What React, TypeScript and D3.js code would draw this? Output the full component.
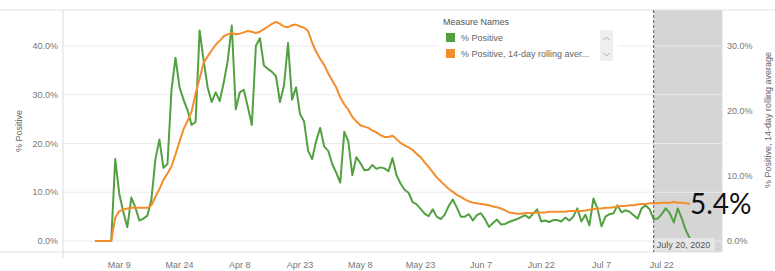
import * as d3 from "d3";

// daily values, first point is START_DATE
const START_DATE = "2020-03-03";

// % Positive (left axis)
const pctPositive = [
  0, 0, 0, 0, 0,
  16.8, 9.7, 6.0, 2.8,
  8.9, 6.9, 4.2, 4.6, 5.2, 8.5, 16.8, 20.8, 15.0, 15.8,
  31.0, 37.6, 31.5, 29.0, 26.8, 23.8, 24.4, 43.2, 37.0, 31.5,
  28.5, 30.5, 28.7, 32.5, 37.0, 44.2, 27.0, 30.5, 31.0, 27.5,
  23.8, 40.0, 41.6, 36.0, 35.3, 34.7, 33.8, 28.5, 31.9, 40.6,
  29.0, 31.5, 26.0, 24.5, 18.5, 16.8, 20.5, 23.2, 19.4, 18.5,
  15.8, 14.0, 12.0, 22.4, 20.5, 13.5, 17.2, 16.0, 14.5, 14.6,
  15.6, 14.8, 15.1, 14.9, 14.3, 17.0, 13.5, 11.8, 10.5, 9.9,
  8.0, 7.5, 6.6, 5.6, 5.1, 6.5, 5.0, 4.5, 5.4, 7.2,
  8.5, 6.9, 5.0, 5.0, 5.5, 4.2, 5.3, 5.7, 4.5, 2.9,
  3.7, 4.4, 3.4, 3.5, 3.9, 4.2, 4.5, 4.9, 5.3, 4.7,
  5.6, 6.5, 4.0, 4.2, 3.9, 4.3, 4.3, 4.0, 4.8, 4.2,
  5.0, 6.7, 4.0, 5.4, 3.2, 8.7, 6.7, 3.0, 5.0, 5.5,
  5.7, 7.3, 5.9, 6.3, 6.0, 5.3, 4.6, 6.7, 7.3, 6.5,
  4.5, 4.6, 5.5, 6.7, 5.7, 3.8, 6.7, 4.6, 2.2, 0.5,
];

// % Positive, 14-day rolling average (right axis)
const pctRolling = [
  0, 0, 0, 0, 0,
  3.6, 4.6, 4.8, 5.0, 5.1, 5.1, 5.1, 5.1, 5.1,
  5.5, 6.8, 8.0, 9.4, 10.4,
  11.5, 13.3, 15.3, 17.2, 18.5, 19.9, 22.7, 25.0, 27.4, 28.4,
  29.3, 30.2, 30.8, 31.5, 31.8, 32.0, 31.8, 31.9, 32.1, 32.3,
  32.2, 32.0, 32.2, 32.6, 33.0, 33.4, 33.7, 33.4, 33.0, 32.9,
  33.2, 33.3, 33.0, 32.8, 32.3, 30.5, 29.1, 28.0, 27.1, 25.8,
  24.7, 23.6, 22.1, 21.0, 20.2, 19.1, 18.4, 17.8, 17.6, 17.4,
  17.0, 16.7, 16.3, 16.0, 16.0, 16.2, 15.7, 15.1, 14.7, 14.4,
  14.0, 13.4, 12.9, 12.1, 11.4, 10.6, 9.8, 9.2, 8.6, 8.0,
  7.6, 7.1, 6.8, 6.4, 6.1, 5.9, 5.8, 5.7, 5.6, 5.5,
  5.3, 5.2, 5.0, 4.7, 4.4, 4.3, 4.2, 4.2, 4.3, 4.3,
  4.3, 4.4, 4.4, 4.4, 4.5, 4.5, 4.5, 4.5, 4.5, 4.6,
  4.6, 4.6, 4.6, 4.7, 4.8, 4.9, 5.0, 5.0, 5.1, 5.1,
  5.2, 5.3, 5.4, 5.4, 5.5, 5.5, 5.6, 5.7, 5.7, 5.8,
  5.8, 5.8, 5.9, 5.9, 5.9, 6.0, 5.9, 5.9, 5.8, 5.7,
];

const tickDates = [
  "2020-03-09", "2020-03-24", "2020-04-08", "2020-04-23", "2020-05-08",
  "2020-05-23", "2020-06-07", "2020-06-22", "2020-07-07", "2020-07-22",
];
const tickLabels = [
  "Mar 9", "Mar 24", "Apr 8", "Apr 23", "May 8",
  "May 23", "Jun 7", "Jun 22", "Jul 7", "Jul 22",
];
const leftTicks = [0, 10, 20, 30, 40];
const rightTicks = [0, 10, 20, 30];

const markerDate = "2020-07-20";
const markerLabel = "July 20, 2020";
const latestValue = "5.4%";

const legendTitle = "Measure Names";
const seriesNames = ["% Positive", "% Positive, 14-day rolling aver..."];
const seriesColors = ["#53a043", "#f28e2b"];

const W = 775;
const H = 271;
const PLOT = { left: 63, right: 722, top: 10, bottom: 252 };
const FONT = "'Liberation Sans', Arial, sans-serif";

const parse = (s: string) => new Date(s + "T00:00:00Z");
const addDays = (d: Date, n: number) => new Date(d.getTime() + n * 864e5);

export default function App() {
  const start = parse(START_DATE);

  const x = d3
    .scaleUtc()
    .domain([parse("2020-02-24"), parse("2020-08-06")])
    .range([PLOT.left, PLOT.right]);
  const yLeft = d3.scaleLinear().domain([0, 40]).range([241, 46]);
  const yRight = d3.scaleLinear().domain([0, 30]).range([241, 46]);

  const greenPath = d3
    .line<number>()
    .x((_, i) => x(addDays(start, i)))
    .y((v) => yLeft(v))(pctPositive);
  const orangePath = d3
    .line<number>()
    .x((_, i) => x(addDays(start, i)))
    .y((v) => yRight(v))(pctRolling);

  const mx = x(parse(markerDate));

  return (
    <svg
      width={W}
      height={H}
      style={{ position: "absolute", left: 0, top: 0, background: "#fff" }}
      fontFamily={FONT}
    >
      {/* highlighted period after the marker */}
      <rect x={mx} y={PLOT.top} width={PLOT.right - mx} height={PLOT.bottom - PLOT.top} fill="#d5d5d5" />

      {/* gridlines */}
      {leftTicks.map((t) => (
        <line key={t} x1={PLOT.left} x2={PLOT.right} y1={yLeft(t)} y2={yLeft(t)} stroke="#ebebeb" strokeWidth={1} />
      ))}

      {/* frame */}
      <line x1={0} x2={W} y1={PLOT.top} y2={PLOT.top} stroke="#e2e2e2" />
      <line x1={0} x2={PLOT.right} y1={PLOT.bottom} y2={PLOT.bottom} stroke="#e2e2e2" />
      <line x1={PLOT.left} x2={PLOT.left} y1={PLOT.top} y2={258} stroke="#dcdcdc" />
      <line x1={PLOT.right} x2={PLOT.right} y1={PLOT.top} y2={PLOT.bottom} stroke="#dcdcdc" />

      {/* lines */}
      <path d={greenPath ?? ""} fill="none" stroke={seriesColors[0]} strokeWidth={2} strokeLinejoin="round" />
      <path d={orangePath ?? ""} fill="none" stroke={seriesColors[1]} strokeWidth={2} strokeLinejoin="round" />

      {/* marker */}
      <line x1={mx} x2={mx} y1={PLOT.top} y2={PLOT.bottom} stroke="#555" strokeWidth={1} strokeDasharray="3,2" />
      <rect x={mx + 1} y={238} width={60} height={13} fill="#e6e6e6" />
      <text x={mx + 3} y={248} fontSize={9} fill="#555">{markerLabel}</text>

      {/* left axis */}
      {leftTicks.map((t) => (
        <text key={t} x={58} y={yLeft(t) + 3} textAnchor="end" fontSize={9} fill="#777">
          {t.toFixed(1)}%
        </text>
      ))}
      <text transform={`translate(21.5,131) rotate(-90)`} textAnchor="middle" fontSize={9} fill="#666">
        % Positive
      </text>

      {/* right axis */}
      {rightTicks.map((t) => (
        <text key={t} x={727} y={yRight(t) + 3} fontSize={9} fill="#777">
          {t.toFixed(1)}%
        </text>
      ))}
      <text transform={`translate(771,120) rotate(-90)`} textAnchor="middle" fontSize={9} fill="#666">
        % Positive, 14-day rolling average
      </text>

      {/* x axis */}
      {tickDates.map((d, i) => (
        <text key={d} x={x(parse(d))} y={268} textAnchor="middle" fontSize={9} fill="#777">
          {tickLabels[i]}
        </text>
      ))}

      {/* legend */}
      <rect x={438} y={13} width={180} height={51} fill="#fff" />
      <text x={443} y={25} fontSize={9} fill="#555">{legendTitle}</text>
      {seriesNames.map((n, i) => (
        <g key={n} transform={`translate(446,${33 + i * 16})`}>
          <rect width={9} height={9} fill={seriesColors[i]} />
          <text x={15} y={8} fontSize={9} fill="#666">{n}</text>
        </g>
      ))}
      <rect x={600} y={30} width={13} height={31} fill="#eeeeee" />
      <polyline points="603.5,40 606.5,37 609.5,40" fill="none" stroke="#aaa" strokeWidth={1} />
      <polyline points="603.5,53 606.5,56 609.5,53" fill="none" stroke="#aaa" strokeWidth={1} />

      {/* annotation */}
      <text x={690} y={214} fontSize={28} fill="#111" fontFamily="Lato, 'Open Sans', sans-serif">
        {latestValue}
      </text>
    </svg>
  );
}
